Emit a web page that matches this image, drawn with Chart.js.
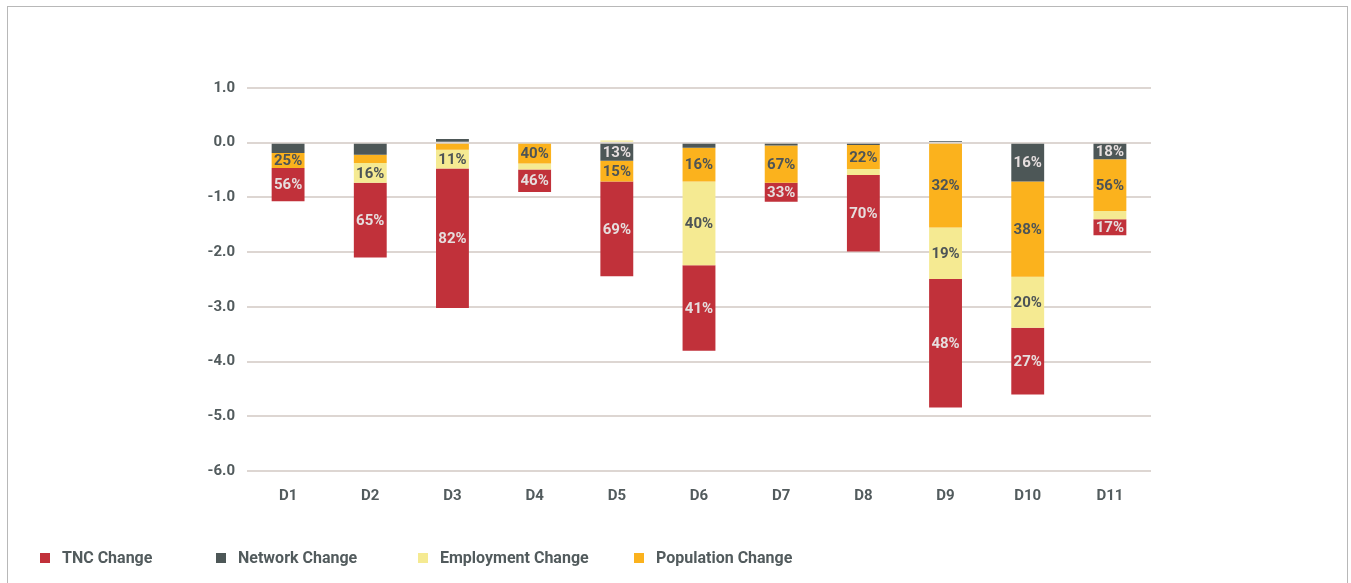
<!DOCTYPE html>
<html>
<head>
<meta charset="utf-8">
<script src="https://cdn.jsdelivr.net/npm/chart.js@4.4.0/dist/chart.umd.min.js"></script>
<style>
  body { margin: 0; background: #fff; font-family: Roboto, sans-serif; }
  #frame { position: absolute; left: 7px; top: 6px; width: 1339px; height: 620px; border: 1px solid #b8b8b8; }
  #chart { position: absolute; left: 0; top: 0; }
  .item { position: absolute; top: 548px; font: bold 16px Roboto, sans-serif; color: #525b5d; line-height: 19px; }
  .item span { display: inline-block; width: 10px; height: 10px; margin-right: 12px; vertical-align: 0px; }
</style>
</head>
<body>
<div id="frame"></div>
<canvas id="chart" width="1351" height="583"></canvas>
<div id="legend"></div>
<script>
// dữ liệu
const categories = ["D1", "D2", "D3", "D4", "D5", "D6", "D7", "D8", "D9", "D10", "D11"];
const tncChange = [-0.61, -1.37, -2.55, -0.41, -1.73, -1.56, -0.35, -1.40, -2.35, -1.22, -0.29];
const networkChange = [-0.19, -0.22, 0.07, 0, -0.33, -0.09, -0.05, -0.04, 0.03, -0.71, -0.30];
const employmentChange = [0, -0.36, -0.34, -0.11, 0.04, -1.53, 0, -0.11, -0.94, -0.93, -0.15];
const populationChange = [-0.27, -0.15, -0.13, -0.38, -0.38, -0.62, -0.68, -0.44, -1.55, -1.74, -0.95];

const tncLabels = ["56%", "65%", "82%", "46%", "69%", "41%", "33%", "70%", "48%", "27%", "17%"];
const networkLabels = ["", "", "", "", "13%", "", "", "", "", "16%", "18%"];
const employmentLabels = ["", "16%", "11%", "", "", "40%", "", "", "19%", "20%", ""];
const populationLabels = ["25%", "", "", "40%", "15%", "16%", "67%", "22%", "32%", "38%", "56%"];

const yTicks = [1, 0, -1, -2, -3, -4, -5, -6];

const RED = "#c1313a", GRAY = "#4d5757", YELLOW = "#f5ea92", ORANGE = "#fbb21d";
const DARK = "#4d5456", LIGHT = "#e6dede";

// nhãn % trong từng đoạn cột
const segmentLabels = {
  id: "segmentLabels",
  afterDatasetsDraw(chart) {
    const ctx = chart.ctx;
    ctx.save();
    ctx.font = "bold 15px Roboto, sans-serif";
    ctx.textAlign = "center";
    ctx.textBaseline = "middle";
    chart.data.datasets.forEach((ds, i) => {
      const meta = chart.getDatasetMeta(i);
      meta.data.forEach((bar, j) => {
        const txt = ds.pctLabels[j];
        if (!txt) return;
        ctx.fillStyle = ds.labelColor;
        ctx.fillText(txt, bar.x, (bar.y + bar.base) / 2 + 1);
      });
    });
    ctx.restore();
  }
};

const ctx = document.getElementById("chart").getContext("2d");
new Chart(ctx, {
  type: "bar",
  data: {
    labels: categories,
    datasets: [
      { label: "Network Change", data: networkChange, backgroundColor: GRAY, pctLabels: networkLabels, labelColor: LIGHT },
      { label: "Population Change", data: populationChange, backgroundColor: ORANGE, pctLabels: populationLabels, labelColor: DARK },
      { label: "Employment Change", data: employmentChange, backgroundColor: YELLOW, pctLabels: employmentLabels, labelColor: DARK },
      { label: "TNC Change", data: tncChange, backgroundColor: RED, pctLabels: tncLabels, labelColor: LIGHT },
    ],
  },
  options: {
    responsive: false,
    animation: false,
    layout: { padding: { left: 0, right: 200, top: 88, bottom: 82 } },
    datasets: { bar: { categoryPercentage: 1, barPercentage: 0.4 } },
    plugins: { legend: { display: false }, tooltip: { enabled: false } },
    scales: {
      x: {
        stacked: true,
        grid: { display: false },
        border: { display: false },
        ticks: { color: "#525b5d", font: { family: "Roboto", size: 15, weight: "bold" }, padding: 8 },
        afterFit(scale) { scale.height = 30; },
      },
      y: {
        stacked: true,
        min: Math.min(...yTicks),
        max: Math.max(...yTicks),
        grid: { color: "#ddd6d2", lineWidth: 2, drawTicks: false },
        border: { display: false },
        ticks: {
          stepSize: 1,
          padding: 12,
          color: "#525b5d",
          font: { family: "Roboto", size: 15, weight: "bold" },
          callback: (v) => v.toFixed(1),
        },
        afterFit(scale) { scale.width = 247; },
      },
    },
  },
  plugins: [segmentLabels],
});

// chú giải
const legendItems = [
  ["TNC Change", RED, 40],
  ["Network Change", GRAY, 216],
  ["Employment Change", YELLOW, 418],
  ["Population Change", ORANGE, 634],
];
const legend = document.getElementById("legend");
legendItems.forEach(([name, color, left]) => {
  const div = document.createElement("div");
  div.className = "item";
  div.style.left = left + "px";
  div.innerHTML = `<span style="background:${color}"></span>${name}`;
  legend.appendChild(div);
});
</script>
</body>
</html>
